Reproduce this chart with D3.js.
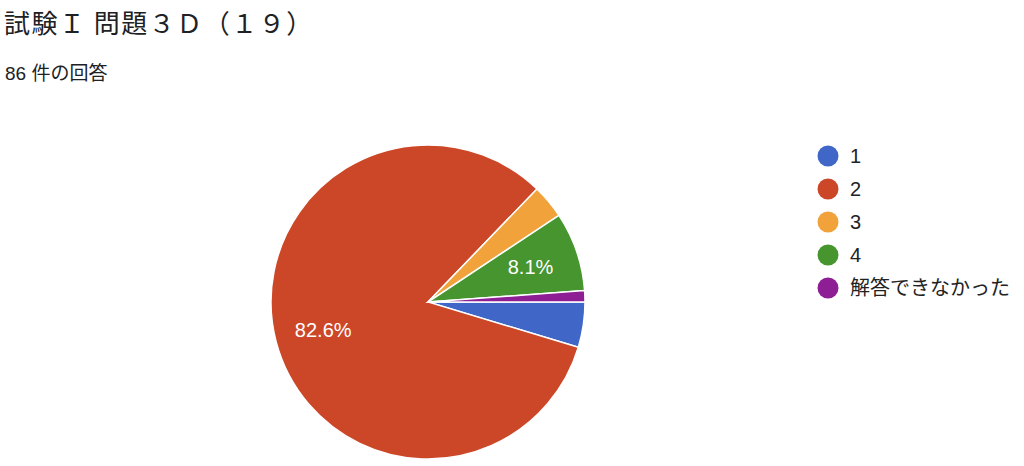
<!DOCTYPE html>
<html>
<head>
<meta charset="utf-8">
<script src="https://cdn.jsdelivr.net/npm/d3@7"></script>
<style>
  body { margin: 0; background: #fff; }
  svg { display: block; }
</style>
</head>
<body>
<svg id="drawing_region"></svg>
<script>
const title = "試験Ｉ 問題３Ｄ（１９）";
const subtitle = "86 件の回答";
const categories = ["1", "2", "3", "4", "解答できなかった"];
const counts = [4, 71, 3, 7, 1];
const colors = ["#4067c8", "#cc4728", "#f2a23a", "#46952f", "#8d1e94"];

const width = 1024, height = 466;
const cx = 428, cy = 302, radius = 157;
const font = "'Liberation Sans', 'Noto Sans CJK JP', sans-serif";

const svg = d3.select("#drawing_region")
    .attr("width", width)
    .attr("height", height);

svg.append("text")
    .attr("x", 4)
    .attr("y", 33)
    .attr("font-family", "'Noto Sans CJK JP', sans-serif")
    .attr("font-size", 26)
    .attr("letter-spacing", 1.5)
    .attr("fill", "#202124")
    .text(title);

svg.append("text")
    .attr("x", 5)
    .attr("y", 80)
    .attr("font-family", font)
    .attr("font-size", 19)
    .attr("fill", "#202124")
    .text(subtitle);

const data = categories.map((c, i) => ({label: c, value: counts[i], color: colors[i]}));
const total = d3.sum(counts);

const pie = d3.pie()
    .value(d => d.value)
    .sort(null)
    .startAngle(Math.PI / 2)
    .endAngle(Math.PI / 2 + 2 * Math.PI);

const arc = d3.arc().innerRadius(0).outerRadius(radius);
const labelArc = d3.arc().innerRadius(radius * 0.69).outerRadius(radius * 0.69);

const chart = svg.append("g")
    .attr("transform", `translate(${cx}, ${cy})`);

const arcs = pie(data);

chart.selectAll("path")
    .data(arcs)
    .enter()
    .append("path")
    .attr("d", arc)
    .attr("fill", d => d.data.color)
    .attr("stroke", "#fff")
    .attr("stroke-width", 1.5);

chart.selectAll("text.pct")
    .data(arcs.filter(d => d.data.value / total > 0.05))
    .enter()
    .append("text")
    .attr("class", "pct")
    .attr("transform", d => `translate(${labelArc.centroid(d)})`)
    .attr("text-anchor", "middle")
    .attr("dy", "0.36em")
    .attr("font-family", "'Liberation Sans', sans-serif")
    .attr("font-size", 20)
    .attr("fill", "#fff")
    .text(d => (d.data.value / total * 100).toFixed(1) + "%");

// legend
const legend = svg.append("g")
    .attr("transform", "translate(828, 156)");

const item = legend.selectAll("g")
    .data(data)
    .enter()
    .append("g")
    .attr("transform", (d, i) => `translate(0, ${i * 33})`);

item.append("circle")
    .attr("r", 10.5)
    .attr("fill", d => d.color);

item.append("text")
    .attr("x", 22)
    .attr("dy", "0.36em")
    .attr("font-family", font)
    .attr("font-size", 20)
    .attr("fill", "#222")
    .text(d => d.label);
</script>
</body>
</html>
